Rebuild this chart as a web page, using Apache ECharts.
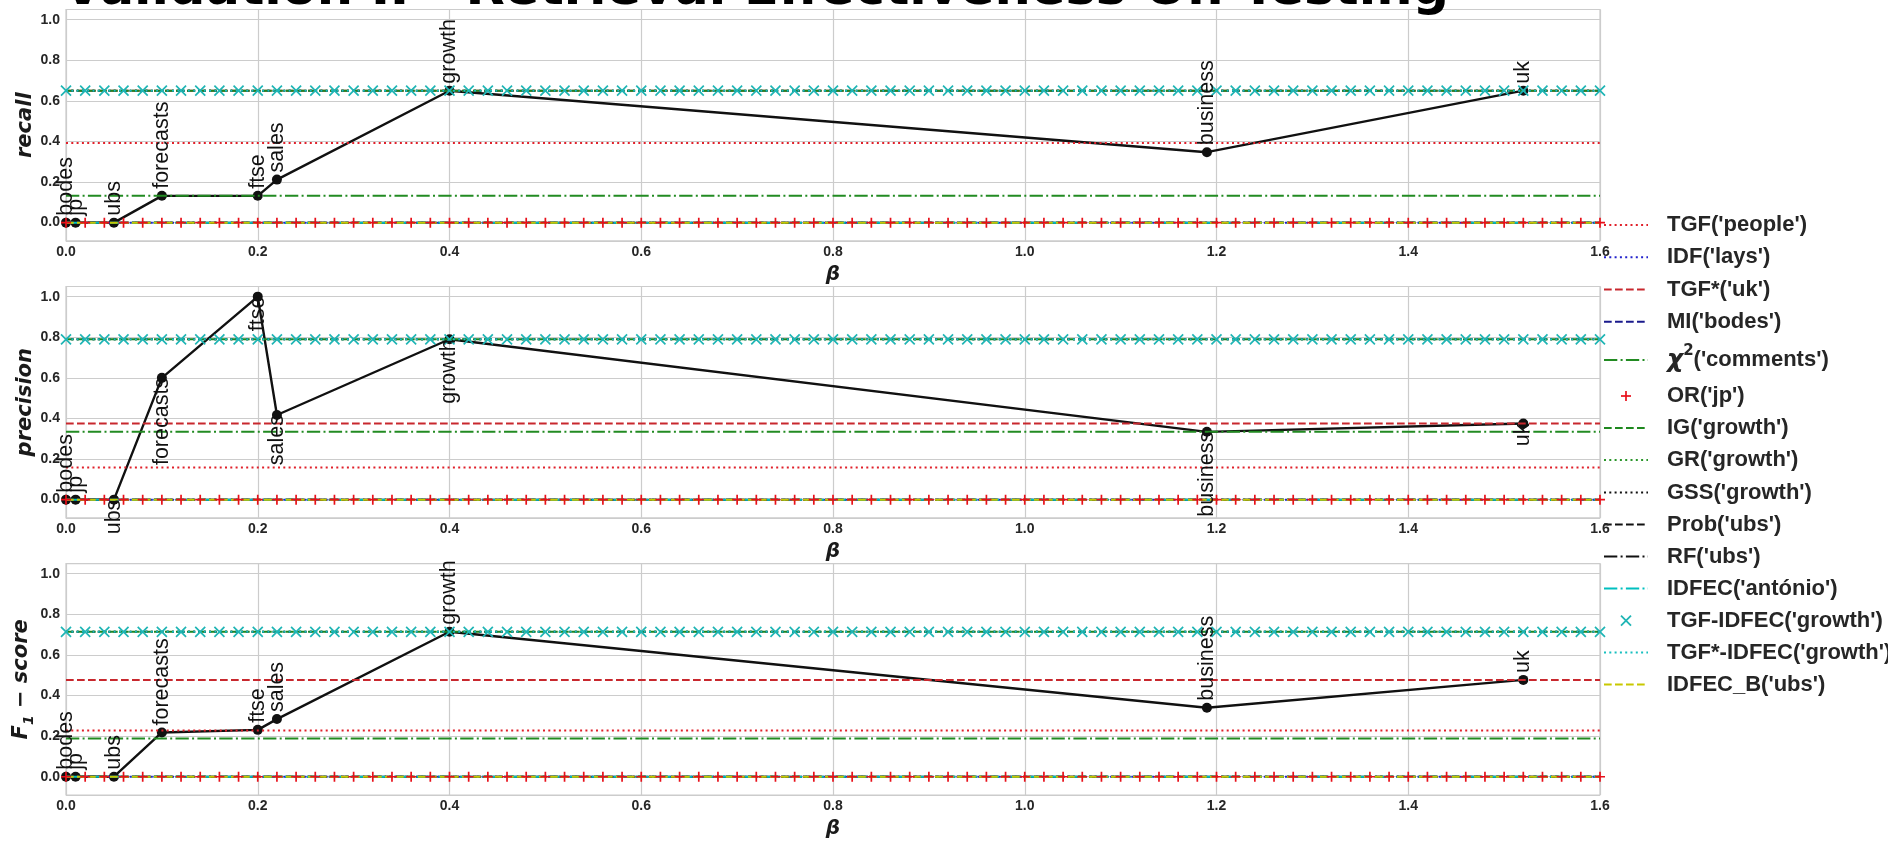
<!DOCTYPE html>
<html><head><meta charset="utf-8">
<script src="https://cdn.jsdelivr.net/npm/echarts@6/dist/echarts.min.js"></script>
<style>html,body{margin:0;padding:0;background:#fff}#c{width:1888px;height:842px}</style>
</head><body><div id="c"></div>
<script>
// ---------- data ----------
const words = ['bodes','jp','ubs','forecasts','ftse','sales','growth','business','uk'];
const betaValues = [0, 0.01, 0.05, 0.1, 0.2, 0.22, 0.4, 1.19, 1.52];
const recallValues = [0, 0, 0, 0.132, 0.132, 0.212, 0.65, 0.347, 0.65];
const precisionValues = [0, 0, 0, 0.6, 1.0, 0.417, 0.79, 0.334, 0.375];
const f1Values = [0, 0, 0, 0.218, 0.231, 0.284, 0.714, 0.34, 0.477];

const methodNames = ["TGF('people')","IDF('lays')","TGF*('uk')","MI('bodes')","χ2('comments')","OR('jp')","IG('growth')","GR('growth')","GSS('growth')","Prob('ubs')","RF('ubs')","IDFEC('antónio')","TGF-IDFEC('growth')","TGF*-IDFEC('growth')","IDFEC_B('ubs')"];
const recallBaselines    = [0.392, 0, 0.65,  0, 0.132, 0, 0.65,  0.65,  0.65,  0, 0, 0, 0.65,  0.65,  0];
const precisionBaselines = [0.158, 0, 0.375, 0, 0.334, 0, 0.79,  0.79,  0.79,  0, 0, 0, 0.79,  0.79,  0];
const f1Baselines        = [0.228, 0, 0.477, 0, 0.188, 0, 0.714, 0.714, 0.714, 0, 0, 0, 0.714, 0.714, 0];

// beta sample positions of the constant reference lines (one marker every 0.02)
const betaGrid = [0,0.02,0.04,0.06,0.08,0.1,0.12,0.14,0.16,0.18,0.2,0.22,0.24,0.26,0.28,0.3,0.32,0.34,0.36,0.38,0.4,0.42,0.44,0.46,0.48,0.5,0.52,0.54,0.56,0.58,0.6,0.62,0.64,0.66,0.68,0.7,0.72,0.74,0.76,0.78,0.8,0.82,0.84,0.86,0.88,0.9,0.92,0.94,0.96,0.98,1,1.02,1.04,1.06,1.08,1.1,1.12,1.14,1.16,1.18,1.2,1.22,1.24,1.26,1.28,1.3,1.32,1.34,1.36,1.38,1.4,1.42,1.44,1.46,1.48,1.5,1.52,1.54,1.56,1.58,1.6];

const xTickLabels = ['0.0','0.2','0.4','0.6','0.8','1.0','1.2','1.4','1.6'];
const yTickLabels = ['0.0','0.2','0.4','0.6','0.8','1.0'];
const precisionLabelsAbove = ['bodes','jp'];

// ---------- styles ----------
const dashPatterns = {dotted:[2,3.3], dashed:[7.7,3.3], dashdot:[13.3,3.3,2,3.3]};
const methodStyles = [
  {color:'#e0202a', dash:'dotted'},
  {color:'#2222cc', dash:'dotted'},
  {color:'#c8282e', dash:'dashed'},
  {color:'#1a1a8c', dash:'dashed'},
  {color:'#228b22', dash:'dashdot'},
  {color:'#e8101a', marker:'plus'},
  {color:'#1e881e', dash:'dashed'},
  {color:'#2a962a', dash:'dotted'},
  {color:'#111111', dash:'dotted'},
  {color:'#111111', dash:'dashed'},
  {color:'#111111', dash:'dashdot'},
  {color:'#00bfbf', dash:'dashdot'},
  {color:'#1fb5b5', marker:'cross'},
  {color:'#17bfbf', dash:'dotted'},
  {color:'#c8c800', dash:'dashed'}
];
const markerPaths = {plus:'path://M5,0L5,10M0,5L10,5', cross:'path://M0,0L10,10M10,0L0,10'};

const gridLeft = 66, gridWidth = 1534, gridHeight = 231.4;
const panelTops = [9.5, 286.5, 563.6];
const panels = [
  {values: recallValues, baselines: recallBaselines, name: 'recall', below: false},
  {values: precisionValues, baselines: precisionBaselines, name: 'precision', below: true},
  {values: f1Values, baselines: f1Baselines, name: '{i|F}{s|1}{i| − score}', below: false}
];

const tickFont = {color:'#262626', fontSize:14, fontFamily:'Liberation Sans', fontWeight:'bold'};
const nameFont = {color:'#1a1a1a', fontSize:21, fontFamily:'DejaVu Sans', fontWeight:'bold', fontStyle:'italic'};
const wordFont = {color:'#111111', fontSize:21.5, fontFamily:'Liberation Sans'};

const grids = [], xAxes = [], yAxes = [], series = [];
panels.forEach((p, i) => {
  grids.push({left:gridLeft, top:panelTops[i], width:gridWidth, height:gridHeight, show:true,
    borderColor:'#cccccc', borderWidth:1.2, backgroundColor:'#ffffff', outerBoundsMode:'none', containLabel:false});
  xAxes.push({type:'value', gridIndex:i, min:0, max:1.6, interval:0.2,
    axisLine:{show:false}, axisTick:{show:false},
    axisLabel:Object.assign({margin:4, formatter:v => xTickLabels[Math.round(v/0.2)] || ''}, tickFont),
    splitLine:{show:true, lineStyle:{color:'#cccccc', width:1.2}},
    name:'β', nameLocation:'middle', nameGap:24, nameMoveOverlap:false,
    nameTextStyle:Object.assign({}, nameFont, {fontSize:20})});
  yAxes.push({type:'value', gridIndex:i, min:-0.09, max:1.05, splitNumber:5,
    axisLine:{show:false}, axisTick:{show:false},
    axisLabel:Object.assign({margin:6, showMinLabel:false, showMaxLabel:false,
      formatter:v => { const k = Math.round(v/0.2); return (Math.abs(v - k*0.2) < 1e-6 && yTickLabels[k]) ? yTickLabels[k] : ''; }}, tickFont),
    splitLine:{show:true, lineStyle:{color:'#cccccc', width:1.2}},
    name:p.name, nameLocation:'middle', nameGap:30, nameMoveOverlap:false,
    nameTextStyle:Object.assign({}, nameFont, {
      rich:{
        i:{fontSize:21, fontFamily:'DejaVu Sans', fontWeight:'bold', fontStyle:'italic', color:'#1a1a1a', lineHeight:28},
        s:{fontSize:14, fontFamily:'DejaVu Sans', fontWeight:'bold', color:'#1a1a1a', lineHeight:14, verticalAlign:'bottom'}
      }})});

  // black beta curve
  series.push({type:'line', xAxisIndex:i, yAxisIndex:i, z:2, silent:true,
    data: betaValues.map((b, j) => [b, p.values[j]]),
    symbol:'circle', symbolSize:10, showSymbol:true, showAllSymbol:true,
    lineStyle:{color:'#111111', width:2.4}, itemStyle:{color:'#111111'}});

  // constant reference lines of each method
  methodNames.forEach((m, k) => {
    const st = methodStyles[k];
    const data = betaGrid.map(b => [b, p.baselines[k]]);
    if (st.marker) {
      series.push({type:'scatter', name:m, xAxisIndex:i, yAxisIndex:i, z:3, silent:true, data,
        symbol:markerPaths[st.marker], symbolSize:10,
        itemStyle:{color:'transparent', borderColor:st.color, borderWidth:1.7, opacity:1}});
    } else {
      series.push({type:'line', name:m, xAxisIndex:i, yAxisIndex:i, z:3, silent:true, data,
        showSymbol:false, symbol:'none',
        lineStyle:{color:st.color, width:2, type:dashPatterns[st.dash]}});
    }
  });

  // word labels
  series.push({type:'scatter', xAxisIndex:i, yAxisIndex:i, z:6, silent:true,
    symbolSize:0.01, itemStyle:{color:'#111111', opacity:1},
    data: betaValues.map((b, j) => {
      const below = p.below && precisionLabelsAbove.indexOf(words[j]) < 0;
      return {name:words[j], value:[b, p.values[j]],
        label: below
          ? Object.assign({show:true, position:'bottom', distance:0, rotate:90, align:'right', verticalAlign:'middle', formatter:'{b}'}, wordFont)
          : Object.assign({show:true, position:'top', distance:7, rotate:90, align:'left', verticalAlign:'middle', formatter:'{b}'}, wordFont)};
    })});
});

// ---------- legend drawn as graphic (outside right) ----------
const legendRowY = [225, 257.3, 289.6, 321.8, 360, 396, 428, 460, 492.5, 524.5, 556.5, 588.5, 620.7, 652.5, 684.5];
const legendX1 = 1604, legendX2 = 1648, legendTextX = 1667;
const legendEls = [];
methodNames.forEach((m, k) => {
  const st = methodStyles[k], y = legendRowY[k];
  if (st.marker === 'plus') {
    legendEls.push({type:'line', shape:{x1:1626, y1:y-5, x2:1626, y2:y+5}, style:{stroke:st.color, lineWidth:1.7}});
    legendEls.push({type:'line', shape:{x1:1621, y1:y, x2:1631, y2:y}, style:{stroke:st.color, lineWidth:1.7}});
  } else if (st.marker === 'cross') {
    legendEls.push({type:'line', shape:{x1:1621, y1:y-5, x2:1631, y2:y+5}, style:{stroke:st.color, lineWidth:1.7}});
    legendEls.push({type:'line', shape:{x1:1631, y1:y-5, x2:1621, y2:y+5}, style:{stroke:st.color, lineWidth:1.7}});
  } else {
    legendEls.push({type:'line', shape:{x1:legendX1, y1:y, x2:legendX2, y2:y},
      style:{stroke:st.color, lineWidth:2, lineDash:dashPatterns[st.dash]}});
  }
  if (m.indexOf('χ2') === 0) {
    legendEls.push({type:'text', x:legendTextX, y:y, style:{
      text:'{chi|χ}{sup|2}{t|' + m.slice(2) + '}', textAlign:'left', textVerticalAlign:'middle', align:'left', verticalAlign:'middle',
      rich:{
        chi:{fontFamily:'DejaVu Sans', fontStyle:'italic', fontWeight:'bold', fontSize:25, lineHeight:32, fill:'#262626', color:'#262626'},
        sup:{fontFamily:'DejaVu Sans', fontWeight:'bold', fontSize:15, lineHeight:17, verticalAlign:'top', fill:'#262626', color:'#262626'},
        t:{fontFamily:'Liberation Sans', fontWeight:'bold', fontSize:22, lineHeight:32, fill:'#262626', color:'#262626'}
      }}});
  } else {
    legendEls.push({type:'text', x:legendTextX, y:y, style:{text:m, fill:'#262626',
      font:'bold 22px "Liberation Sans"', textAlign:'left', textVerticalAlign:'middle', align:'left', verticalAlign:'middle'}});
  }
});
// title (partly above the canvas, as in the reference)
legendEls.push({type:'text', x:756, y:-9, z:10, style:{text:'Validation II - Retrieval Effectiveness On Testing',
  fill:'#000000', font:'bold 51px "DejaVu Sans"', textAlign:'center', textVerticalAlign:'middle', align:'center', verticalAlign:'middle'}});

const chart = echarts.init(document.getElementById('c'), null, {renderer:'canvas', width:1888, height:842});
chart.setOption({
  animation:false,
  backgroundColor:'#ffffff',
  grid:grids, xAxis:xAxes, yAxis:yAxes, series:series,
  graphic:{elements:legendEls}
});
</script></body></html>
